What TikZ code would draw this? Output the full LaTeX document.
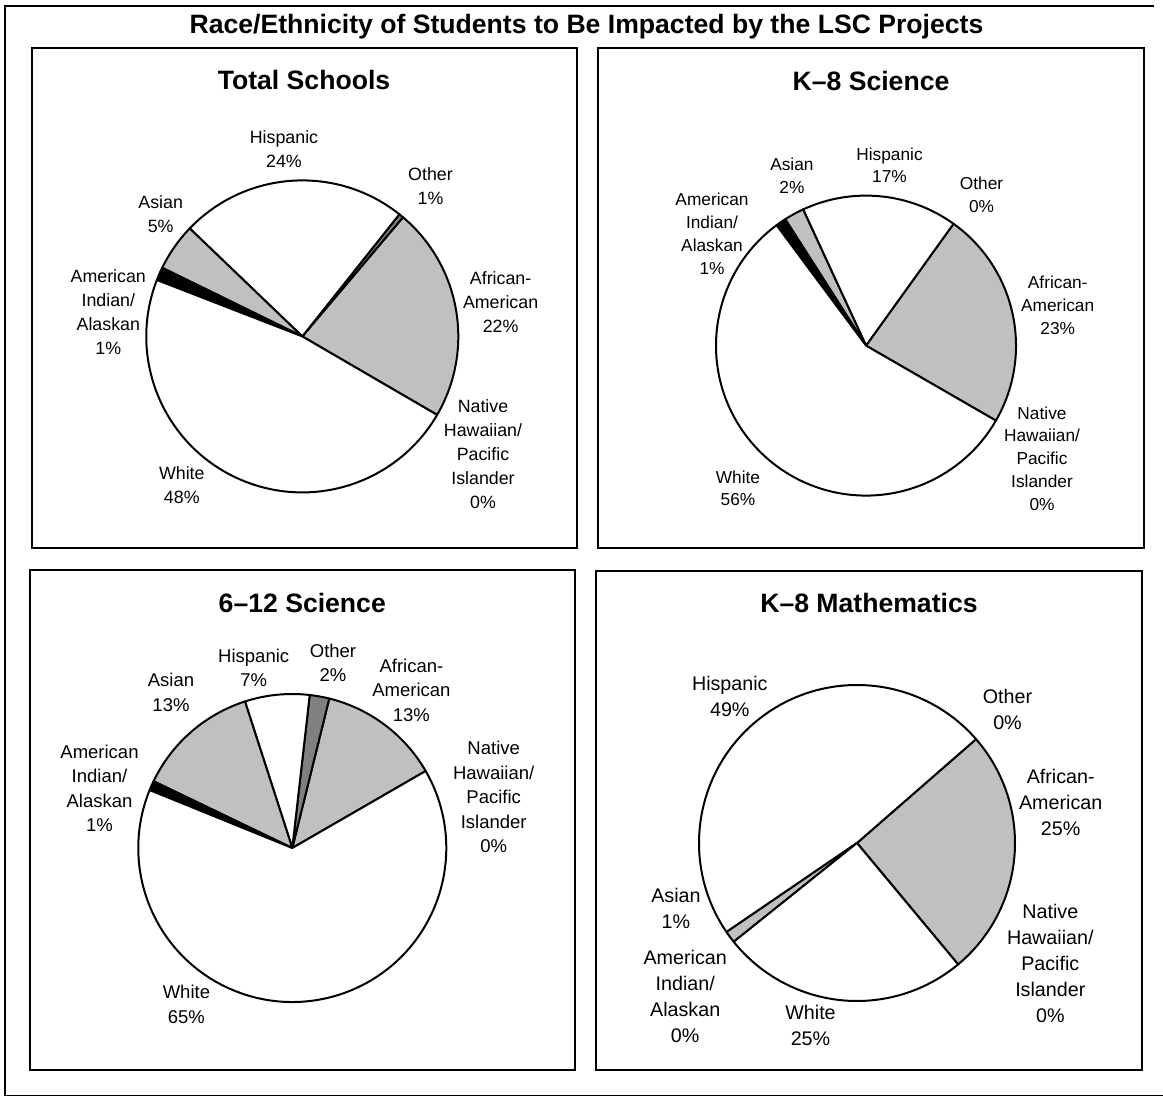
\documentclass[tikz,border=0pt]{standalone}
\usepackage{fontspec}
\setmainfont{Liberation Sans}
\definecolor{lgray}{HTML}{C0C0C0}
\definecolor{dgray}{HTML}{808080}
\newcommand{\pieslice}[5]{\filldraw[slicestyle,fill=#5] (#1) -- ++(#3:#2) arc[start angle=#3,end angle=#4,radius=#2] -- cycle;}
\begin{document}
\begin{tikzpicture}[x=1pt,y=1pt,
  outerframe/.style={draw=black,line width=1.8pt},
  panel/.style={draw=black,line width=2pt},
  slicestyle/.style={draw=black,line width=2pt,line join=round},
  ttl/.style={font=\fontsize{26.6}{30}\selectfont\bfseries,inner sep=0pt,anchor=base},
  lbl/.style={align=center,inner sep=0pt,anchor=center},
  pa/.style={lbl,font=\fontsize{17.8}{24}\selectfont},
  pb/.style={lbl,font=\fontsize{17.3}{22.8}\selectfont},
  pc/.style={lbl,font=\fontsize{18.5}{24.5}\selectfont},
  pd/.style={lbl,font=\fontsize{19.7}{26}\selectfont}]
\useasboundingbox (0,0) rectangle (1163,-1097);
% outer frame
\draw[outerframe] (1154,-6) -- (5,-6) -- (5,-1095.5) -- (1163,-1095.5);
\node[ttl] (title) at (586.5,-34) {Race/Ethnicity of Students to Be Impacted by the LSC Projects};
% panels
\draw[panel] (32,-48) rectangle (577,-548);
\draw[panel] (598,-48) rectangle (1143.5,-548);
\draw[panel] (30,-570) rectangle (575,-1070);
\draw[panel] (596,-571) rectangle (1142,-1070);
\node[ttl] (t1) at (304,-89.5) {Total Schools};
\node[ttl] (t2) at (871,-90.5) {K–8 Science};
\node[ttl] (t3) at (302.3,-612.8) {6–12 Science};
\node[ttl] (t4) at (869,-612.8) {K–8 Mathematics};
% pie 1
\coordinate (c1) at (302.3,-336.4);
\pieslice{c1}{156}{-30.2}{49.8}{lgray}
\pieslice{c1}{156}{49.8}{51.5}{dgray}
\pieslice{c1}{156}{51.5}{136.2}{white}
\pieslice{c1}{156}{136.2}{153.9}{lgray}
\pieslice{c1}{156}{153.9}{158.8}{black}
\pieslice{c1}{156}{158.8}{329.8}{white}
\node[pa] (a1) at (284,-148.8) {Hispanic\\24\%};
\node[pa] (a2) at (430.5,-185.8) {Other\\1\%};
\node[pa] (a3) at (160.7,-213.8) {Asian\\5\%};
\node[pa] (a4) at (108.3,-312.5) {American\\Indian/\\Alaskan\\1\%};
\node[pa] (a5) at (500.6,-301.8) {African-\\American\\22\%};
\node[pa] (a6) at (483,-454.1) {Native\\Hawaiian/\\Pacific\\Islander\\0\%};
\node[pa] (a7) at (181.8,-485.4) {White\\48\%};
% pie 2
\coordinate (c2) at (866,-345.6);
\pieslice{c2}{150}{-30}{54.3}{lgray}
\pieslice{c2}{150}{54.3}{114.8}{white}
\pieslice{c2}{150}{114.8}{122.6}{lgray}
\pieslice{c2}{150}{122.6}{126.6}{black}
\pieslice{c2}{150}{126.6}{330}{white}
\node[pb] (b1) at (889.5,-165.2) {Hispanic\\17\%};
\node[pb] (b2) at (791.9,-175.9) {Asian\\2\%};
\node[pb] (b3) at (981.5,-194.7) {Other\\0\%};
\node[pb] (b4) at (712,-233.6) {American\\Indian/\\Alaskan\\1\%};
\node[pb] (b5) at (1057.7,-305.4) {African-\\American\\23\%};
\node[pb] (b6) at (1042,-458.6) {Native\\Hawaiian/\\Pacific\\Islander\\0\%};
\node[pb] (b7) at (738,-488.4) {White\\56\%};
% pie 3
\coordinate (c3) at (292.3,-848);
\pieslice{c3}{154}{30}{76.1}{lgray}
\pieslice{c3}{154}{76.1}{83.5}{dgray}
\pieslice{c3}{154}{83.5}{107.9}{white}
\pieslice{c3}{154}{107.9}{154.3}{lgray}
\pieslice{c3}{154}{154.3}{157.9}{black}
\pieslice{c3}{154}{157.9}{390}{white}
\node[pc] (d1) at (171,-692.5) {Asian\\13\%};
\node[pc] (d2) at (253.7,-668) {Hispanic\\7\%};
\node[pc] (d3) at (333,-662.9) {Other\\2\%};
\node[pc] (d4) at (411.4,-690) {African-\\American\\13\%};
\node[pc] (d5) at (99.5,-788.5) {American\\Indian/\\Alaskan\\1\%};
\node[pc] (d6) at (493.7,-797.2) {Native\\Hawaiian/\\Pacific\\Islander\\0\%};
\node[pc] (d7) at (186.4,-1004.5) {White\\65\%};
% pie 4
\coordinate (c4) at (857,-843);
\pieslice{c4}{158}{-50.2}{41.1}{lgray}
\pieslice{c4}{158}{41.1}{214.3}{white}
\pieslice{c4}{158}{214.3}{218.7}{lgray}
\pieslice{c4}{158}{218.7}{309.8}{white}
\node[pd] (e1) at (729.8,-696.7) {Hispanic\\49\%};
\node[pd] (e2) at (1007.5,-709.6) {Other\\0\%};
\node[pd] (e3) at (1060.7,-802.5) {African-\\American\\25\%};
\node[pd] (e4) at (675.9,-908.9) {Asian\\1\%};
\node[pd] (e5) at (685.2,-996.7) {American\\Indian/\\Alaskan\\0\%};
\node[pd] (e6) at (810.5,-1025.8) {White\\25\%};
\node[pd] (e7) at (1050.3,-963.3) {Native\\Hawaiian/\\Pacific\\Islander\\0\%};
\end{tikzpicture}
\end{document}
